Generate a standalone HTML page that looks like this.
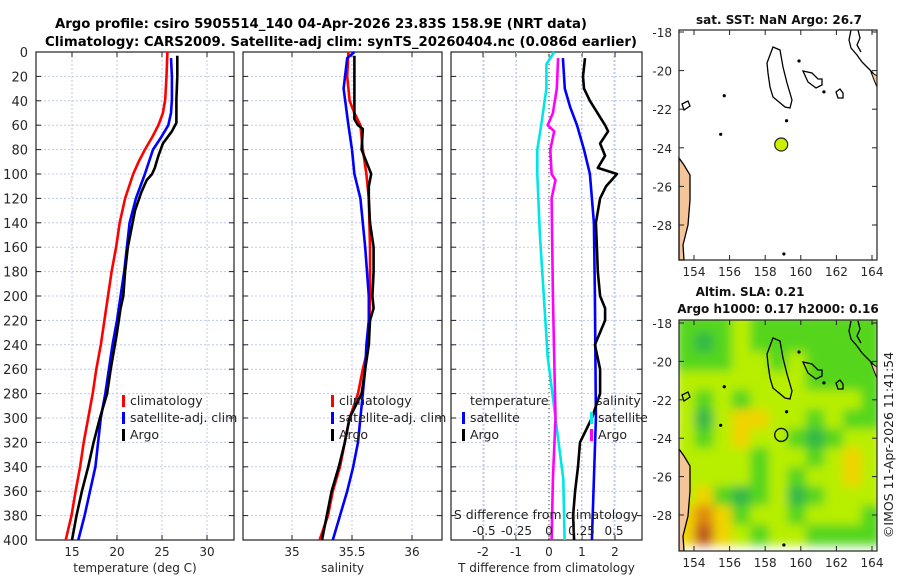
<!DOCTYPE html>
<html><head><meta charset="utf-8"><style>
body{margin:0;background:#fff}
svg{font-family:"DejaVu Sans","Liberation Sans",sans-serif;display:block}
</style></head><body>
<svg id="chartsvg" width="900" height="580" viewBox="0 0 900 580">
<text x="55" y="28" textLength="532" lengthAdjust="spacingAndGlyphs" font-weight="bold" font-size="13">Argo profile: csiro 5905514_140 04-Apr-2026 23.83S 158.9E (NRT data)</text>
<text x="45" y="46" textLength="592" lengthAdjust="spacingAndGlyphs" font-weight="bold" font-size="13">Climatology: CARS2009. Satellite-adj clim: synTS_20260404.nc (0.086d earlier)</text>
<g id="plotroot"></g>
<text id="errmsg" x="10" y="300" font-size="11" fill="#c00"></text>
</svg>
<script>
window.onerror=function(m,s,l,c){var t=document.getElementById('errmsg');if(t){t.textContent='ERR: '+m+' line '+l+':'+c;}};
</script>
<script>
// depth profiles
var tClimD=[0,20,39,50,60,70,80,90,100,120,140,160,180,200,220,240,260,280,300,320,340,360,380,400];
var tClimV=[25.6,25.5,25.35,25.1,24.6,23.9,23.1,22.4,21.8,20.9,20.3,19.9,19.4,19.0,18.6,18.2,17.7,17.3,16.8,16.3,15.9,15.4,14.95,14.3];
var tSatD=[5,20,39,50,60,70,80,100,120,140,160,180,200,220,240,260,280,300,320,340,360,380,400];
var tSatV=[26.0,26.1,26.1,26.0,25.7,24.9,24.0,23.1,22.1,21.4,21.1,20.8,20.4,20.0,19.5,19.1,18.7,18.2,17.9,17.6,17.0,16.4,15.7];
var tArgoD=[3,20,39,58,65,75,85,95,100,105,115,130,160,180,200,210,230,260,280,300,320,340,360,380,400];
var tArgoV=[26.7,26.7,26.6,26.6,26.1,25.1,24.6,24.2,23.9,23.3,22.7,22.0,21.2,20.9,20.7,20.4,20.0,19.3,18.9,18.1,17.4,16.8,16.1,15.5,15.0];
var sClimD=[0,20,40,50,60,80,100,120,160,200,240,260,280,300,320,340,360,380,400];
var sClimV=[35.47,35.46,35.48,35.52,35.57,35.59,35.62,35.64,35.65,35.65,35.64,35.59,35.55,35.48,35.44,35.40,35.34,35.30,35.23];
var sSatD=[0,5,30,60,80,100,120,160,200,220,240,260,280,300,320,340,360,380,400];
var sSatV=[35.52,35.46,35.43,35.47,35.50,35.52,35.57,35.61,35.64,35.64,35.62,35.61,35.59,35.57,35.55,35.51,35.46,35.40,35.34];
var sArgoD=[3,55,60,63,80,90,100,110,120,140,160,180,200,210,220,240,260,280,286,300,320,340,360,380,400];
var sArgoV=[35.52,35.52,35.55,35.59,35.58,35.62,35.66,35.64,35.64,35.65,35.68,35.68,35.67,35.68,35.65,35.64,35.61,35.58,35.55,35.48,35.44,35.39,35.33,35.29,35.25];
var dtSatD=[5,30,45,60,80,100,140,200,300,400];
var dtSatV=[0.42,0.48,0.64,0.85,1.06,1.24,1.36,1.39,1.42,1.3];
var dtArgoD=[5,20,30,40,60,65,75,85,95,100,110,120,140,160,180,200,210,220,240,260,280,300,320,340,360,380,400];
var dtArgoV=[1.09,1.03,1.06,1.24,1.70,1.79,1.55,1.70,1.48,2.06,1.73,1.55,1.42,1.45,1.48,1.55,1.70,1.70,1.39,1.55,1.55,1.30,0.94,0.88,0.79,0.73,0.76];
var dsSatD=[0,10,30,60,80,100,150,200,250,300,350,400];
var dsSatV=[0.04,-0.02,-0.02,-0.06,-0.09,-0.09,-0.07,-0.04,-0.01,0.05,0.11,0.12];
var dsArgoD=[5,30,50,60,65,80,100,105,120,200,300,350,400];
var dsArgoV=[0.07,0.06,0.03,-0.01,0.04,0.01,0.02,0.05,0.02,0.03,0.05,0.03,0.02];
var depthTicks=[0,20,40,60,80,100,120,140,160,180,200,220,240,260,280,300,320,340,360,380,400];
var tTicks=[15,20,25,30];
var sTicks=[35,35.5,36];
var dtTicks=[-2,-1,0,1,2];
var dsTicks=[-0.5,-0.25,0,0.25,0.5];
var dsTickLabels=["-0.5","-0.25","0","0.25","0.5"];
// SLA grid (lon 153.3.., lat -18..), level 0..5
var slaGrid=[
[1,1,1,2,1,1,1,1,1,1,1],[1,0,1,2,1,1,1,1,1,1,1],[1,1,1,2,2,1,2,1,1,1,1],[2,2,2,2,2,2,2,1,1,1,1],
[2,1,2,1,2,2,2,2,2,2,1],[2,0,2,3,3,2,2,1,2,1,1],[2,1,2,3,2,2,1,0,1,2,2],[2,2,2,2,1,2,2,1,2,3,2],
[2,2,2,2,1,2,1,2,2,3,2],[2,3,1,0,1,2,0,1,2,2,2],[3,4,3,1,2,2,1,2,2,2,1],[3,5,3,2,1,2,2,1,1,1,1]];
var slaColors=["#33b84a","#55d61e","#b8ee00","#f0d400","#e08a10","#c0581a"];
var argoLon=158.9, argoLat=-23.83;

var SVGEL=document.getElementById('chartsvg');
var SVGNS=SVGEL.namespaceURI;
var ROOT=document.getElementById('plotroot');
function mk(t,a,p){var e=document.createElementNS(SVGNS,t);for(var k in a){e.setAttribute(k,String(a[k]));}(p||ROOT).appendChild(e);return e;}
function txt(x,y,s,a,p){var o={x:x,y:y,'font-size':12,fill:'#262626'};if(a){for(var k in a)o[k]=a[k];}var e=mk('text',o,p);e.textContent=s;return e;}
var yTop=52,yBot=540;
function yD(d){return yTop+d*(yBot-yTop)/400;}
function drawPanel(nm,x0,x1,xs,ticks,labels,xlabel){
  var g=mk('g',{});
  
  
  var i,v,d;
  for(i=0;i<ticks.length;i++){v=ticks[i];mk('line',{x1:xs(v),x2:xs(v),y1:yTop,y2:yBot,stroke:'#c0c8ec','stroke-dasharray':'2,2'},g);}
  for(i=0;i<depthTicks.length;i++){d=depthTicks[i];
    if(d>0&&d<400)mk('line',{x1:x0,x2:x1,y1:yD(d),y2:yD(d),stroke:'#c0c8ec','stroke-dasharray':'2,2'},g);
    mk('line',{x1:x0,x2:x0+5,y1:yD(d),y2:yD(d),stroke:'#222'},g);mk('line',{x1:x1-5,x2:x1,y1:yD(d),y2:yD(d),stroke:'#222'},g);}
  for(i=0;i<ticks.length;i++){v=ticks[i];mk('line',{x1:xs(v),x2:xs(v),y1:yBot,y2:yBot-5,stroke:'#222'},g);mk('line',{x1:xs(v),x2:xs(v),y1:yTop,y2:yTop+5,stroke:'#222'},g);
    if(labels)txt(xs(v),556,labels[i],{'text-anchor':'middle'},g);}
  mk('rect',{x:x0,y:yTop,width:x1-x0,height:yBot-yTop,fill:'none',stroke:'#222','stroke-width':1.2},g);
  if(xlabel)txt((x0+x1)/2,572,xlabel,{'text-anchor':'middle'},g);
  return g;}
function drawSeries(nm,D,V,xs,color){
  var pts=[];for(var i=0;i<D.length;i++){pts.push(xs(V[i]).toFixed(1)+','+yD(D[i]).toFixed(1));}
  var e=mk('polyline',{points:pts.join(' '),fill:'none',stroke:color,'stroke-width':2.6,'stroke-linejoin':'round'});
  
  }
function drawLegend(x,y,items){for(var i=0;i<items.length;i++){mk('rect',{x:x,y:y+i*17-10,width:3,height:12,fill:items[i][1]});txt(x+8,y+i*17,items[i][0],{fill:'#222','font-size':12.5});}}
function xT(v){return 36+(v-11)*9;}
function xS(v){return 292+(v-35)*120;}
function xdT(v){return 549+v*33;}
function xdS(v){return 549+v*130;}
function mx(lon){return 694+(lon-154)*17.8;}
function lat1(l){return 32+(-18-l)*19.3;}
function lat2(l){return 323+(-18-l)*19.2;}
function mapFrame(nm){var g=mk('g',{});
  
  
  return g;}
function mapAxes(y0,y1,latY,g){
  var lats=[-18,-20,-22,-24,-26,-28],lons=[154,156,158,160,162,164],i,l;
  for(i=0;i<lats.length;i++){l=lats[i];txt(672,latY(l)+5,String(l),{'text-anchor':'end'},g);mk('line',{x1:679,x2:684,y1:latY(l),y2:latY(l),stroke:'#222'},g);mk('line',{x1:872,x2:877,y1:latY(l),y2:latY(l),stroke:'#222'},g);}
  for(i=0;i<lons.length;i++){l=lons[i];txt(mx(l),y1+16,String(l),{'text-anchor':'middle'},g);mk('line',{x1:mx(l),x2:mx(l),y1:y1,y2:y1-5,stroke:'#222'},g);mk('line',{x1:mx(l),x2:mx(l),y1:y0,y2:y0+5,stroke:'#222'},g);}
  mk('rect',{x:679,y:y0,width:198,height:y1-y0,fill:'none',stroke:'#222','stroke-width':1.2},g);}
function drawCoast(dy,g){
  var c=mk('g',{transform:'translate(0,'+dy+')'},g);
  mk('path',{d:'M679,158 L684,165 L690,175 L690,200 L688,225 L683,245 L684,260 L679,260 Z',fill:'#f5c59a',stroke:'#000','stroke-width':1.3},c);
  mk('path',{d:'M851,30 L849,40 L851,48 L857,55 L862,62 L867,67 L872,72 L877,78',fill:'none',stroke:'#000','stroke-width':1.3},c);
  mk('path',{d:'M858,30 L860,38 L857,45 L861,52',fill:'none',stroke:'#000','stroke-width':1.3},c);
  mk('path',{d:'M871,72 L877,76 L877,87 L874,80 Z',fill:'#f5c59a',stroke:'#000','stroke-width':1},c);
  mk('path',{d:'M768,73 L767,63 L773,47 L780,50 L783,67 L787,83 L792,100 L790,108 L785,107 L773,97 L770,87 Z',fill:'none',stroke:'#000','stroke-width':1.3},c);
  mk('path',{d:'M803,71 L812,73 L818,79 L822,79 L822,85 L816,88 L808,82 Z',fill:'none',stroke:'#000','stroke-width':1.3},c);
  mk('path',{d:'M836,92 L840,89 L843,93 L843,98 L838,98 Z',fill:'none',stroke:'#000','stroke-width':1.3},c);
  mk('path',{d:'M682,104 L688,101 L690,106 L684,110 Z',fill:'none',stroke:'#000','stroke-width':1.3},c);
  var isl=[[155.7,-21.3],[159.9,-19.5],[159.2,-22.6],[155.5,-23.3],[159.05,-29.5],[161.3,-21.1]];
  for(var i=0;i<isl.length;i++){mk('circle',{cx:mx(isl[i][0]),cy:lat1(isl[i][1]),r:1.6,fill:'#000'},c);}}

function section(fn){try{fn();}catch(err){var t=document.getElementById('errmsg');t.textContent='ERR: '+err.message;}}

section(function(){
  for(var i=0;i<depthTicks.length;i++){txt(28,yD(depthTicks[i])+5,String(depthTicks[i]),{'text-anchor':'end','font-size':13});}
});
section(function(){
  drawPanel('temperature-panel',36,234,xT,tTicks,tTicks.map(String),'temperature (deg C)');
  drawSeries('temp-climatology',tClimD,tClimV,xT,'#ff0000');
  drawSeries('temp-satellite-clim',tSatD,tSatV,xT,'#0000ff');
  drawSeries('temp-argo',tArgoD,tArgoV,xT,'#000000');
  drawLegend(122,405,[['climatology','#f00'],['satellite-adj. clim','#00f'],['Argo','#000']]);
});
section(function(){
  drawPanel('salinity-panel',243,442,xS,sTicks,sTicks.map(String),'salinity');
  drawSeries('sal-climatology',sClimD,sClimV,xS,'#ff0000');
  drawSeries('sal-satellite-clim',sSatD,sSatV,xS,'#0000ff');
  drawSeries('sal-argo',sArgoD,sArgoV,xS,'#000000');
  drawLegend(331,405,[['climatology','#f00'],['satellite-adj. clim','#00f'],['Argo','#000']]);
});
section(function(){
  var p3=drawPanel('difference-panel',451,642,xdT,dtTicks,dtTicks.map(String),'T difference from climatology');
  for(var i=0;i<dsTicks.length;i++){mk('line',{x1:xdS(dsTicks[i]),x2:xdS(dsTicks[i]),y1:yTop,y2:yBot,stroke:'#c0c8ec','stroke-dasharray':'2,2'},p3);}
  mk('line',{x1:549,x2:549,y1:yTop,y2:yBot,stroke:'#444','stroke-dasharray':'1,3'});
  drawSeries('dT-satellite',dtSatD,dtSatV,xdT,'#0000ff');
  drawSeries('dT-argo',dtArgoD,dtArgoV,xdT,'#000000');
  drawSeries('dS-satellite',dsSatD,dsSatV,xdS,'#00e5e5');
  drawSeries('dS-argo',dsArgoD,dsArgoV,xdS,'#ff00ff');
  txt(470,405,'temperature',{fill:'#222','font-size':12.5});drawLegend(462,422,[['satellite','#00f'],['Argo','#000']]);
  txt(596,405,'salinity',{fill:'#222','font-size':12.5});drawLegend(590,422,[['satellite','#0ee'],['Argo','#f0f']]);
  txt(546,519,'S difference from climatology',{'text-anchor':'middle',fill:'#222','font-size':12.5});
  for(var j=0;j<dsTicks.length;j++){txt(xdS(dsTicks[j]),535,dsTickLabels[j],{'text-anchor':'middle',fill:'#222'});}
});
section(function(){
  var m1=mapFrame('sst-map');
  txt(779,24,'sat. SST: NaN Argo: 26.7',{'text-anchor':'middle','font-weight':'bold',fill:'#111'},m1);
  drawCoast(0,m1);
  var argoDot=mk('circle',{cx:mx(argoLon),cy:lat1(argoLat),r:6.5,fill:'#ccee00',stroke:'#222','stroke-width':1.2},m1);
  
  
  mapAxes(30,260,lat1,m1);
});
section(function(){
  var m2=mapFrame('sla-map');
  txt(750,296,'Altim. SLA: 0.21',{'text-anchor':'middle','font-weight':'bold',fill:'#111'},m2);
  txt(778,313,'Argo h1000: 0.17 h2000: 0.16',{'text-anchor':'middle','font-weight':'bold',fill:'#111'},m2);
  var mdefs=mk('defs',{},m2);
  var clipEl=mk('clipPath',{id:'slaclip'},mdefs);mk('rect',{x:679,y:320,width:198,height:231},clipEl);
  var blurEl=mk('filter',{id:'slablur',x:'-10%',y:'-10%',width:'120%',height:'120%'},mdefs);mk('feGaussianBlur',{stdDeviation:5},blurEl);
  var hg=mk('g',{'clip-path':'url(#slaclip)'},m2);var hb=mk('g',{filter:'url(#slablur)'},hg);
  for(var r=0;r<slaGrid.length;r++){for(var c=0;c<slaGrid[r].length;c++){
    var cell=mk('rect',{x:mx(153.3+c*1.04-0.3).toFixed(1),y:lat2(-17.5-r).toFixed(1),width:20,height:20.5,fill:slaColors[slaGrid[r][c]]},hb);
    
    }}
  var cg=mk('g',{'clip-path':'url(#slaclip)'},m2);
  drawCoast(291,cg);
  mk('circle',{cx:mx(argoLon),cy:lat2(argoLat),r:6.5,fill:'none',stroke:'#111','stroke-width':1.4},m2);
  mapAxes(320,551,lat2,m2);
});
section(function(){
  var crText=txt(0,0,'\u00A9IMOS 11-Apr-2026 11:41:54',{'text-anchor':'middle',transform:'translate(893,445) rotate(-90)',fill:'#222','font-size':12.5});
  
  
});
</script>
</body></html>
